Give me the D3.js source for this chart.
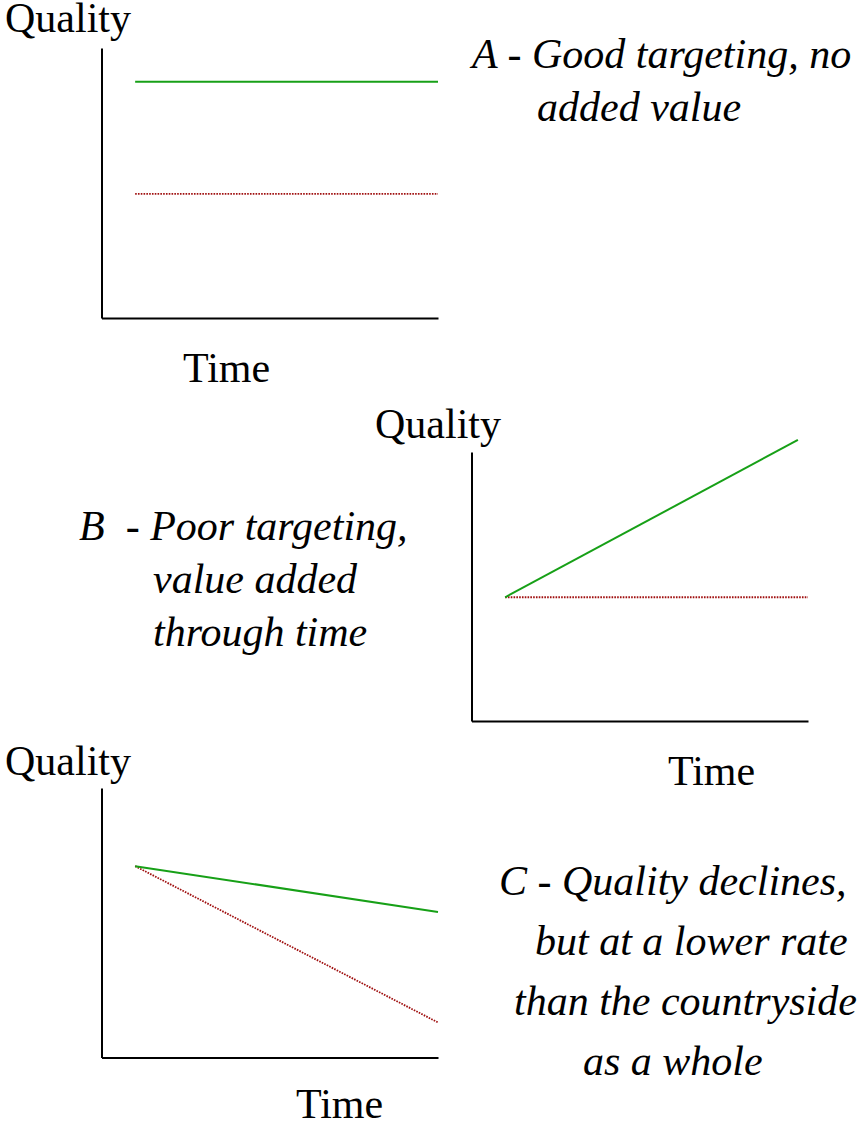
<!DOCTYPE html>
<html><head><meta charset="utf-8">
<script src="https://cdn.jsdelivr.net/npm/d3@7"></script></head>
<body style="margin:0">
<svg id="chart" width="861" height="1126"></svg>
<script>
// ---- Data (time 0..10, quality 0..10 per panel) ----
const panelNames = ["A", "B", "C"];
const axisLabelY = "Quality";
const axisLabelX = "Time";

// Targeted areas (green, solid)
const targetedA = [{t: 1, q: 8.75}, {t: 10, q: 8.75}];
const targetedB = [{t: 1, q: 4.6}, {t: 9.7, q: 10.45}];
const targetedC = [{t: 1, q: 7.1}, {t: 10, q: 5.4}];

// Countryside as a whole (red, dotted)
const wholeA = [{t: 1, q: 4.6}, {t: 10, q: 4.6}];
const wholeB = [{t: 1, q: 4.6}, {t: 10, q: 4.6}];
const wholeC = [{t: 1, q: 7.1}, {t: 10, q: 1.3}];

const captionA = ["A - Good targeting, no", "added value"];
const captionB = ["B \u00a0- Poor targeting,", "value added", "through time"];
const captionC = ["C - Quality declines,", "but at a lower rate", "than the countryside", "as a whole"];

// ---- Layout ----
const svg = d3.select("#chart");
const FONT = 42;
const FAMILY = "Liberation Serif";

const panels = [
  { targeted: targetedA, whole: wholeA, caption: captionA,
    x0: 101.5, x1: 438, yTop: 48, yBot: 318,
    qLabel: [5, 32], tLabel: [183, 382],
    capPos: [[472, 68], [537, 121]] },
  { targeted: targetedB, whole: wholeB, caption: captionB,
    x0: 471.5, x1: 808, yTop: 452, yBot: 721,
    qLabel: [375, 438], tLabel: [668, 785],
    capPos: [[79, 540], [153, 593], [153, 646]] },
  { targeted: targetedC, whole: wholeC, caption: captionC,
    x0: 101.5, x1: 438, yTop: 788, yBot: 1057.5,
    qLabel: [5, 775], tLabel: [296, 1118],
    capPos: [[499, 895], [535, 955], [514, 1015], [583, 1075]] }
];

panels.forEach(p => {
  const g = svg.append("g");
  const x = d3.scaleLinear().domain([0, 10]).range([p.x0, p.x1]);
  const y = d3.scaleLinear().domain([0, 10]).range([p.yBot, p.yTop]);

  // axes (no ticks)
  const xAxis = d3.axisBottom(x).tickValues([]).tickSizeOuter(0);
  const yAxis = d3.axisLeft(y).tickValues([]).tickSizeOuter(0);
  g.append("g").attr("transform", `translate(0,${p.yBot})`).call(xAxis)
    .select(".domain").attr("stroke", "#000").attr("stroke-width", 2);
  g.append("g").attr("transform", `translate(${p.x0},0)`).call(yAxis)
    .select(".domain").attr("stroke", "#000").attr("stroke-width", 2);

  const line = d3.line().x(d => x(d.t)).y(d => y(d.q));

  g.append("path").datum(p.whole).attr("d", line)
    .attr("fill", "none").attr("stroke", "#a01010").attr("stroke-width", 1.8)
    .attr("stroke-dasharray", "1.6,1.2");
  g.append("path").datum(p.targeted).attr("d", line)
    .attr("fill", "none").attr("stroke", "#17a017").attr("stroke-width", 2);

  g.append("text").attr("x", p.qLabel[0]).attr("y", p.qLabel[1])
    .attr("font-family", FAMILY).attr("font-size", FONT)
    .text(axisLabelY);
  g.append("text").attr("x", p.tLabel[0]).attr("y", p.tLabel[1])
    .attr("font-family", FAMILY).attr("font-size", FONT)
    .text(axisLabelX);

  p.caption.forEach((s, i) => {
    g.append("text").attr("x", p.capPos[i][0]).attr("y", p.capPos[i][1])
      .attr("font-family", FAMILY).attr("font-size", FONT).attr("font-style", "italic")
      .text(s);
  });
});
</script></body></html>
